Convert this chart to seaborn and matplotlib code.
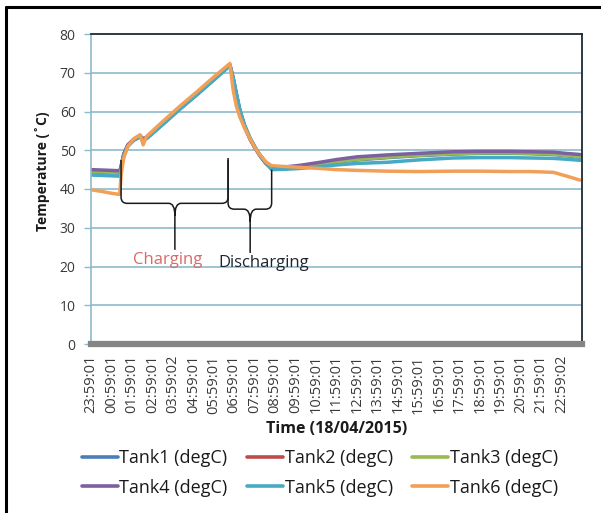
import matplotlib
matplotlib.use("Agg")
import matplotlib.pyplot as plt
from matplotlib.path import Path
from matplotlib.patches import PathPatch
from matplotlib.lines import Line2D
import pandas as pd
import seaborn as sns

# Sample times in hours after 23:59:01 (17/04/2015)
hours = [0.0, 0.5, 1.0, 1.40, 1.48, 1.6, 1.8, 2.1, 2.4, 2.55, 2.72, 3.5, 4.35,
         5.2, 6.0, 6.79, 6.95, 7.1, 7.28, 7.5, 7.77, 8.0, 8.26, 8.55, 8.83,
         9.5, 10.2, 11.2, 12.0, 13.0, 14.5, 16.0, 17.7, 19.0, 20.5, 21.5,
         22.6, 23.2, 23.9]

tank1 = [44.4, 44.3, 44.2, 44.1, 45.8, 48.8, 51.2, 52.7, 53.5, 52.8, 53.1,
         56.7, 60.7, 64.5, 68.2, 71.9, 68.6, 64.6, 60.2, 56.4, 53.1, 50.9,
         48.7, 46.7, 45.2, 45.3, 45.6, 46.3, 46.9, 47.5, 48.1, 48.6, 49.0,
         49.2, 49.2, 49.1, 48.9, 48.6, 48.2]
tank2 = [44.7, 44.6, 44.5, 44.4, 45.9, 48.9, 51.3, 52.8, 53.6, 52.9, 53.2,
         56.8, 60.8, 64.6, 68.3, 72.0, 68.4, 64.4, 60.0, 56.2, 53.0, 50.8,
         48.6, 46.6, 45.3, 45.5, 45.8, 46.6, 47.3, 47.9, 48.5, 49.0, 49.4,
         49.5, 49.5, 49.4, 49.3, 49.0, 48.7]
tank3 = [44.5, 44.4, 44.3, 44.2, 45.8, 48.8, 51.2, 52.7, 53.5, 52.8, 53.1,
         56.7, 60.7, 64.5, 68.2, 71.9, 68.5, 64.5, 60.1, 56.3, 53.0, 50.8,
         48.6, 46.6, 45.2, 45.4, 45.7, 46.4, 47.0, 47.6, 48.2, 48.7, 49.1,
         49.3, 49.3, 49.2, 49.0, 48.7, 48.3]
tank4 = [45.0, 44.9, 44.8, 44.7, 46.1, 49.0, 51.4, 52.9, 53.7, 53.0, 53.3,
         56.9, 60.9, 64.7, 68.4, 72.1, 68.3, 64.3, 59.9, 56.1, 52.9, 50.7,
         48.6, 46.7, 45.5, 45.7, 46.1, 46.9, 47.6, 48.3, 48.8, 49.2, 49.6,
         49.7, 49.7, 49.6, 49.5, 49.2, 48.9]
tank5 = [43.6, 43.5, 43.4, 43.3, 45.6, 48.6, 51.0, 52.6, 53.4, 52.7, 53.0,
         56.6, 60.6, 64.4, 68.1, 71.8, 68.8, 64.8, 60.4, 56.6, 53.2, 51.0,
         48.8, 46.8, 45.0, 45.1, 45.3, 45.8, 46.2, 46.6, 46.9, 47.5, 48.0,
         48.1, 48.1, 48.0, 47.9, 47.7, 47.4]
tank6 = [39.8, 39.4, 38.9, 38.6, 44.0, 48.0, 51.0, 53.0, 54.0, 51.4, 53.6,
         57.4, 61.4, 65.2, 68.9, 72.4, 65.5, 61.5, 58.5, 55.8, 53.0, 50.8,
         48.8, 47.0, 46.0, 45.8, 45.6, 45.3, 45.0, 44.8, 44.6, 44.5, 44.6,
         44.6, 44.5, 44.5, 44.3, 43.4, 42.3]

tank_names = ["Tank1 (degC)", "Tank2 (degC)", "Tank3 (degC)",
              "Tank4 (degC)", "Tank5 (degC)", "Tank6 (degC)"]
tank_colors = ["#4A7EBB", "#BE4B48", "#98B954", "#7D60A0", "#46AAC5", "#F29F57"]

tick_labels = ["23:59:01", "00:59:01", "01:59:01", "02:59:01", "03:59:02",
               "04:59:01", "05:59:01", "06:59:01", "07:59:01", "08:59:01",
               "09:59:01", "10:59:01", "11:59:01", "12:59:01", "13:59:01",
               "14:59:01", "15:59:01", "16:59:01", "17:59:01", "18:59:01",
               "19:59:01", "20:59:01", "21:59:01", "22:59:02"]
y_ticks = [0, 10, 20, 30, 40, 50, 60, 70, 80]

# Phase boundaries (hours)
charge_start = 1.47
charge_end = 6.70
discharge_end = 8.83

series = [tank1, tank2, tank3, tank4, tank5, tank6]
df = pd.concat(
    [pd.DataFrame({"hours": hours, "temp": vals, "tank": name})
     for name, vals in zip(tank_names, series)],
    ignore_index=True)

sns.set_style("white")
plt.rcParams["font.family"] = ["Open Sans", "DejaVu Sans"]

fig = plt.figure(figsize=(6.01, 5.13), dpi=100)
ax = fig.add_axes([91 / 601, 1 - 344 / 513, (582 - 91) / 601, (344 - 34) / 513])

sns.lineplot(data=df, x="hours", y="temp", hue="tank", hue_order=tank_names,
             palette=tank_colors, estimator=None, sort=False,
             linewidth=2.5, ax=ax, legend=True)

ax.set_xlim(0, 24)
ax.set_ylim(0, 80)
ax.set_yticks(y_ticks)
ax.set_yticklabels([str(v) for v in y_ticks], fontsize=10, color="#3A3A3A")
ax.set_xticks(range(len(tick_labels)))
ax.set_xticklabels(tick_labels, rotation=90, fontsize=10.5, color="#3A3A3A")
ax.tick_params(axis="x", length=0, pad=8)
ax.tick_params(axis="y", length=5, width=1, color="#8DBBCB", pad=6,
               direction="out", left=True)

grid_color = "#8DBBCB"
for v in y_ticks[1:-1]:
    ax.axhline(v, color=grid_color, lw=1.2, zorder=0)

for side in ["top", "right"]:
    ax.spines[side].set_visible(True)
    ax.spines[side].set_color("#1C2B36")
    ax.spines[side].set_linewidth(1.3)
ax.spines["left"].set_color(grid_color)
ax.spines["left"].set_linewidth(1.2)
ax.spines["bottom"].set_color("#858585")
ax.spines["bottom"].set_linewidth(4.5)

ax.set_ylabel("Temperature (˚C)", fontsize=10, fontweight="bold",
              color="#1A1A1A")
ax.yaxis.set_label_coords((50 - 91) / 491, 0.556)
ax.set_xlabel("Time (18/04/2015)", fontsize=11.5, fontweight="bold",
              color="#1A1A1A", labelpad=5)


def brace(ax, x0, x1, top0, top1, y_bar, tip, xm, rx=0.3, ry=1.6):
    verts = [(x0, top0), (x0, y_bar + ry), (x0, y_bar), (x0 + rx, y_bar),
             (xm - rx, y_bar), (xm, y_bar), (xm, y_bar - 2 * ry), (xm, tip),
             (xm, y_bar - 2 * ry), (xm, y_bar), (xm + rx, y_bar),
             (x1 - rx, y_bar), (x1, y_bar), (x1, y_bar + ry), (x1, top1)]
    codes = [Path.MOVETO, Path.LINETO, Path.CURVE3, Path.CURVE3,
             Path.LINETO, Path.CURVE3, Path.CURVE3, Path.LINETO,
             Path.MOVETO, Path.CURVE3, Path.CURVE3,
             Path.LINETO, Path.CURVE3, Path.CURVE3, Path.LINETO]
    ax.add_patch(PathPatch(Path(verts, codes), fill=False, ec="#1A1A1A",
                           lw=1.1, zorder=5))


brace(ax, charge_start, charge_end, 47.5, 48.0, 36.3, 24.3, 4.1)
brace(ax, charge_end, discharge_end, 47.5, 45.0, 34.8, 23.5, 6.70 + 1.08)

ax.text(3.76, 21.7, "Charging", ha="center", va="center", fontsize=12,
        color="#D9696A")
ax.text(8.45, 20.9, "Discharging", ha="center", va="center", fontsize=12,
        color="#1C2630")

handles, labels = ax.get_legend_handles_labels()
ax.get_legend().remove()
for h in handles:
    h.set_linewidth(2.6)
# legend fills column by column; reorder so rows read Tank1..3, Tank4..6
order = [0, 3, 1, 4, 2, 5]
fig.legend([handles[i] for i in order], [labels[i] for i in order],
           loc="center", ncol=3, frameon=False,
           bbox_to_anchor=(320 / 601, 1 - 473 / 513), fontsize=13,
           handlelength=1.95, handletextpad=0.1, columnspacing=1.1,
           labelspacing=0.62, labelcolor="#1A1A1A")

# Outer chart frame
fig.add_artist(Line2D([6 / 601, 6 / 601], [0, 1 - 7 / 513], color="black",
                      lw=2.2, transform=fig.transFigure))
fig.add_artist(Line2D([6 / 601, 1], [1 - 7 / 513, 1 - 7 / 513],
                      color="black", lw=2.2, transform=fig.transFigure))

fig.savefig("out.png", dpi=100, facecolor="white")
